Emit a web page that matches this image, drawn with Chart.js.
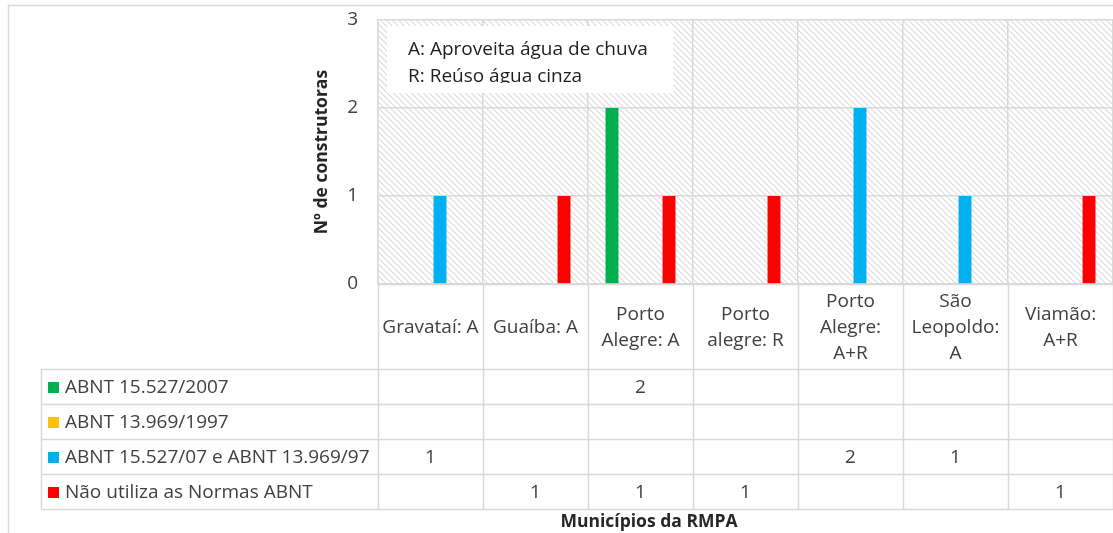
<!DOCTYPE html>
<html>
<head>
<meta charset="utf-8">
<script src="https://cdn.jsdelivr.net/npm/chart.js@4"></script>
<style>
  html, body { margin: 0; padding: 0; background: #ffffff; overflow: hidden; }
  #wrap { width: 1113px; height: 533px; position: relative; }
</style>
</head>
<body>
<div id="wrap"><canvas id="c" width="1113" height="533"></canvas></div>
<script>
// Municípios (multi-line category labels)
const categories = [
  ["Gravataí: A"],
  ["Guaíba: A"],
  ["Porto", "Alegre: A"],
  ["Porto", "alegre: R"],
  ["Porto", "Alegre:", "A+R"],
  ["São", "Leopoldo:", "A"],
  ["Viamão:", "A+R"]
];

// Norma seguida (series names)
const seriesNames = [
  "ABNT 15.527/2007",
  "ABNT 13.969/1997",
  "ABNT 15.527/07 e ABNT 13.969/97",
  "Não utiliza as Normas ABNT"
];

// Nº de construtoras por município
const abnt15527 = [null, null, 2, null, null, null, null];
const abnt13969 = [null, null, null, null, null, null, null];
const ambasNormas = [1, null, null, null, 2, 1, null];
const naoUtiliza = [null, 1, 1, 1, null, null, 1];

const yTicks = [0, 1, 2, 3];

const seriesColors = ["#00B050", "#FFC000", "#00B0F0", "#FF0000"];
const seriesValues = [abnt15527, abnt13969, ambasNormas, naoUtiliza];

const FONT = "'Open Sans', 'Noto Sans', sans-serif";
const GRID = "#d9d9d9";
const TEXT = "#404040";
const FS = 19;

// diagonal hatch used as the plot background
function makeHatch() {
  const p = document.createElement("canvas");
  p.width = 6; p.height = 6;
  const g = p.getContext("2d");
  g.fillStyle = "#ffffff";
  g.fillRect(0, 0, 6, 6);
  for (let i = 0; i < 6; i++) {
    g.fillStyle = "#dcdcdc";
    g.fillRect(i, i, 1, 1);
    g.fillStyle = "#eeeeee";
    g.fillRect((i + 1) % 6, i, 1, 1);
  }
  return p;
}

const layoutBox = {
  headerBottom: 369,
  rowHeight: 35,
  tableLeft: 41
};

const decorations = {
  id: "decorations",
  beforeDraw(chart) {
    const ctx = chart.ctx;
    const a = chart.chartArea;
    ctx.save();
    // outer chart border
    ctx.strokeStyle = GRID;
    ctx.lineWidth = 1.5;
    ctx.beginPath();
    ctx.moveTo(8.5, 540);
    ctx.lineTo(8.5, 5.5);
    ctx.lineTo(1120, 5.5);
    ctx.stroke();
    // hatched plot area
    ctx.fillStyle = ctx.createPattern(makeHatch(), "repeat");
    ctx.fillRect(a.left, a.top, a.right - a.left, a.bottom - a.top);
    ctx.restore();
  },
  afterDraw(chart) {
    const ctx = chart.ctx;
    const a = chart.chartArea;
    const xs = chart.scales.x;
    const n = categories.length;
    const colW = (a.right - a.left) / n;
    ctx.save();

    // note box inside the plot
    ctx.fillStyle = "#ffffff";
    ctx.fillRect(387, 26, 286, 67);
    ctx.save();
    ctx.beginPath();
    ctx.rect(387, 26, 286, 57);
    ctx.clip();
    ctx.fillStyle = "#1e1e1e";
    ctx.font = FS + "px " + FONT;
    ctx.textAlign = "left";
    ctx.textBaseline = "alphabetic";
    ctx.fillText("A: Aproveita água de chuva", 408, 55);
    ctx.fillText("R: Reúso água cinza", 408, 82);
    ctx.restore();

    // data table
    const top = a.bottom;
    const hb = layoutBox.headerBottom;
    const rh = layoutBox.rowHeight;
    const tb = hb + rh * seriesNames.length;
    ctx.strokeStyle = GRID;
    ctx.lineWidth = 1.5;
    ctx.beginPath();
    // vertical lines below the plot
    for (let i = 0; i <= n; i++) {
      const x = Math.round(a.left + i * colW) + 0.5;
      ctx.moveTo(x, top);
      ctx.lineTo(x, tb);
    }
    // left column of the table
    ctx.moveTo(layoutBox.tableLeft + 0.5, hb);
    ctx.lineTo(layoutBox.tableLeft + 0.5, tb);
    // horizontal rules
    ctx.moveTo(a.left, top + 0.5);
    ctx.lineTo(a.right, top + 0.5);
    for (let r = 0; r <= seriesNames.length; r++) {
      const y = hb + r * rh + 0.5;
      ctx.moveTo(layoutBox.tableLeft, y);
      ctx.lineTo(a.right, y);
    }
    ctx.stroke();

    // category labels
    ctx.fillStyle = TEXT;
    ctx.font = FS + "px " + FONT;
    ctx.textAlign = "center";
    ctx.textBaseline = "middle";
    const lh = 26;
    categories.forEach((lines, i) => {
      const cx = xs.getPixelForValue(i);
      const cy = (top + hb) / 2 + 1;
      const y0 = cy - (lines.length - 1) * lh / 2;
      lines.forEach((t, k) => ctx.fillText(t, cx, y0 + k * lh));
    });

    // series rows: legend key, name, values
    seriesNames.forEach((name, r) => {
      const cy = hb + r * rh + rh / 2 + 1;
      ctx.fillStyle = seriesColors[r];
      ctx.fillRect(48, Math.round(cy - 6), 11, 11);
      ctx.fillStyle = TEXT;
      ctx.textAlign = "left";
      ctx.fillText(name, 65, cy);
      ctx.textAlign = "center";
      seriesValues[r].forEach((v, i) => {
        if (v !== null) ctx.fillText(String(v), xs.getPixelForValue(i), cy);
      });
    });

    // x axis title
    ctx.font = "bold 17.5px " + FONT;
    ctx.fillStyle = "#262626";
    ctx.textAlign = "center";
    ctx.fillText("Municípios da RMPA", 649, 522);
    ctx.restore();
  }
};

new Chart(document.getElementById("c"), {
  type: "bar",
  data: {
    labels: categories,
    datasets: seriesNames.map((name, i) => ({
      label: name,
      data: seriesValues[i],
      backgroundColor: seriesColors[i],
      borderWidth: 0,
      categoryPercentage: 0.724,
      barPercentage: 0.68,
      skipNull: false
    }))
  },
  options: {
    responsive: false,
    devicePixelRatio: 1,
    animation: false,
    layout: { padding: { left: 300, top: 20, right: 0, bottom: 249 } },
    plugins: {
      legend: { display: false },
      tooltip: { enabled: false },
      title: { display: false }
    },
    scales: {
      x: {
        offset: true,
        grid: { color: GRID, lineWidth: 1.5, offset: true, drawTicks: false },
        border: { display: false },
        ticks: { display: false },
        afterFit(s) { s.height = 0; }
      },
      y: {
        min: 0,
        max: 3,
        afterBuildTicks(s) { s.ticks = yTicks.map(v => ({ value: v })); },
        grid: { color: GRID, lineWidth: 1.5, drawTicks: false },
        border: { display: true, color: GRID, width: 1.5 },
        ticks: {
          padding: 20,
          color: "#404040",
          font: { family: FONT, size: FS }
        },
        title: {
          display: true,
          text: "Nº de construtoras",
          color: "#262626",
          font: { family: FONT, size: 17.5, weight: "bold" },
          padding: { top: 12, bottom: 0 }
        },
        afterFit(s) {
          s.width = 78;
          s.paddingTop = 0;
          s.paddingBottom = 0;
        }
      }
    }
  },
  plugins: [decorations]
});
</script>
</body>
</html>
